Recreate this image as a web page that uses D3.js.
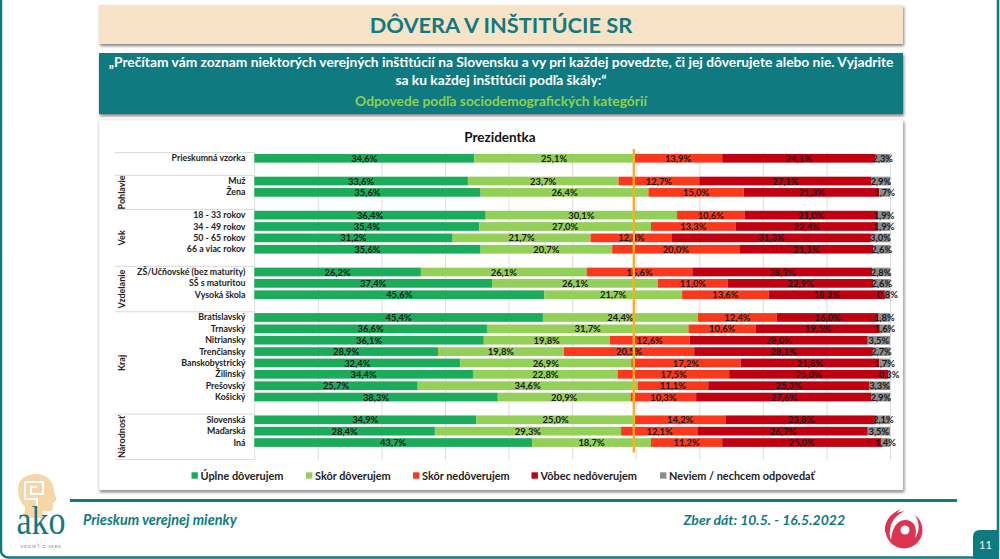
<!DOCTYPE html>
<html>
<head>
<meta charset="utf-8">
<script src="https://cdn.jsdelivr.net/npm/d3@7"></script>
<style>
html, body { margin: 0; padding: 0; background: #fff; }
svg { display: block; font-family: Lato, "Open Sans", sans-serif; }
</style>
</head>
<body>
<div id="chart"></div>
<script>
var groupNames = ["", "Pohlavie", "Vek", "Vzdelanie", "Kraj", "Národnosť"];
var groupSizes = [1, 2, 4, 3, 8, 3];
var categories = ["Prieskumná vzorka", "Muž", "Žena", "18 - 33 rokov", "34 - 49 rokov", "50 - 65 rokov", "66 a viac rokov",
	"ZŠ/Učňovské (bez maturity)", "SŠ s maturitou", "Vysoká škola", "Bratislavský", "Trnavský", "Nitriansky", "Trenčiansky",
	"Banskobystrický", "Žilinský", "Prešovský", "Košický", "Slovenská", "Maďarská", "Iná"];

var uplneDoverujem = [34.6, 33.6, 35.6, 36.4, 35.4, 31.2, 35.6, 26.2, 37.4, 45.6, 45.4, 36.6, 36.1, 28.9, 32.4, 34.4, 25.7, 38.3, 34.9, 28.4, 43.7];
var skorDoverujem = [25.1, 23.7, 26.4, 30.1, 27.0, 21.7, 20.7, 26.1, 26.1, 21.7, 24.4, 31.7, 19.8, 19.8, 26.9, 22.8, 34.6, 20.9, 25.0, 29.3, 18.7];
var skorNedoverujem = [13.9, 12.7, 15.0, 10.6, 13.3, 12.8, 20.0, 16.6, 11.0, 13.6, 12.4, 10.6, 12.6, 20.5, 17.2, 17.5, 11.1, 10.3, 14.2, 12.1, 11.2];
var vobecNedoverujem = [24.1, 27.1, 21.3, 21.0, 22.4, 31.3, 21.1, 28.3, 22.9, 18.3, 16.0, 19.5, 28.0, 28.1, 21.8, 25.0, 25.3, 27.6, 23.8, 26.7, 25.0];
var neviem = [2.3, 2.9, 1.7, 1.9, 1.9, 3.0, 2.6, 2.8, 2.6, 0.8, 1.8, 1.6, 3.5, 2.7, 1.7, 0.3, 3.3, 2.9, 2.1, 3.5, 1.4];

var seriesNames = ["Úplne dôverujem", "Skôr dôverujem", "Skôr nedôverujem", "Vôbec nedôverujem", "Neviem / nechcem odpovedať"];
var seriesValues = [uplneDoverujem, skorDoverujem, skorNedoverujem, vobecNedoverujem, neviem];
var seriesColors = ["#1aab5b", "#94cf58", "#fb371c", "#c00010", "#8c8c8c"];
var gridTicks = [0, 10, 20, 30, 40, 50, 60, 70, 80, 90, 100];

var teal = "#0f7a80";
var width = 1000, height = 559;

var svg = d3.select("#chart").append("svg")
	.attr("width", width)
	.attr("height", height);

// slide frame, open at the top
svg.append("rect")
	.attr("x", 1).attr("y", -20)
	.attr("width", 997).attr("height", 577.5)
	.attr("rx", 7)
	.attr("fill", "none")
	.attr("stroke", teal)
	.attr("stroke-width", 2.5);

// header boxes
var shadow = "drop-shadow(1px 2px 1.5px rgba(0,0,0,.5))";
svg.append("rect").attr("x", 99).attr("y", 5).attr("width", 804).attr("height", 39)
	.attr("fill", "#f9e3c6").style("filter", shadow);
svg.append("text").attr("x", 501).attr("y", 33).attr("text-anchor", "middle")
	.attr("font-size", 21.8).attr("font-weight", 700).attr("fill", teal)
	.text("DÔVERA V INŠTITÚCIE SR");

svg.append("rect").attr("x", 99).attr("y", 53).attr("width", 804).attr("height", 61)
	.attr("fill", teal).style("filter", shadow);
var headerLines = ["„Prečítam vám zoznam niektorých verejných inštitúcií na Slovensku a vy pri každej povedzte, či jej dôverujete alebo nie. Vyjadrite",
	"sa ku každej inštitúcii podľa škály:“"];
svg.selectAll(".headerLine").data(headerLines).enter().append("text")
	.attr("class", "headerLine")
	.attr("x", 501)
	.attr("y", function(d, i) { return 67 + i * 18; })
	.attr("text-anchor", "middle")
	.attr("font-size", 13.8)
	.attr("font-weight", 700)
	.attr("fill", "#fff")
	.text(function(d) { return d; });
svg.append("text").attr("x", 501).attr("y", 106).attr("text-anchor", "middle")
	.attr("font-size", 13.8).attr("font-weight", 700).attr("fill", "#8fd04f")
	.text("Odpovede podľa sociodemografických kategórií");

// chart panel
svg.append("rect").attr("x", 99).attr("y", 120).attr("width", 804).attr("height", 370)
	.attr("fill", "#fff").attr("stroke", "#e3e3e3").attr("stroke-width", 0.5).style("filter", shadow);
svg.append("text").attr("x", 500).attr("y", 142).attr("text-anchor", "middle")
	.attr("font-size", 13.5).attr("font-weight", 700).attr("fill", "#111")
	.text("Prezidentka");

// row slots: each group is followed by one empty row
var slots = [], groupFirst = [], offset = 0;
groupSizes.forEach(function(size, g) {
	groupFirst.push(categories[offset]);
	categories.slice(offset, offset + size).forEach(function(c) { slots.push(c); });
	slots.push("gap" + g);
	offset += size;
});

var x = d3.scaleLinear().domain([0, 100]).range([254.3, 890]);
var y = d3.scaleBand().domain(slots).range([152.6, 459.6]).paddingInner(0.235).paddingOuter(0.1175);
var step = y.step();
var rowTop = function(name) { return y(name) - step * y.paddingInner() / 2; };

// vertical grid
svg.append("g")
	.attr("transform", "translate(0,459.6)")
	.call(d3.axisBottom(x).tickValues(gridTicks).tickSize(-307).tickFormat(""))
	.call(function(g) {
		g.select(".domain").remove();
		g.selectAll("line").attr("stroke", "#dcdcdc");
	});

// multi level category axis
var groupLines = groupFirst.map(rowTop).concat([459.6]);
svg.selectAll(".groupLine").data(groupLines).enter().append("line")
	.attr("class", "groupLine")
	.attr("x1", 115).attr("x2", x(0))
	.attr("y1", function(d) { return d; }).attr("y2", function(d) { return d; })
	.attr("stroke", "#d9d9d9");

svg.selectAll(".groupLabel").data(groupNames).enter().append("text")
	.attr("class", "groupLabel")
	.attr("transform", function(d, i) {
		return "translate(125," + (groupLines[i] + groupLines[i + 1]) / 2 + ") rotate(-90)";
	})
	.attr("text-anchor", "middle")
	.attr("font-size", 9)
	.attr("font-weight", 700)
	.attr("fill", "#222")
	.text(function(d) { return d; });

svg.selectAll(".catLabel").data(categories).enter().append("text")
	.attr("class", "catLabel")
	.attr("x", 245.5)
	.attr("y", function(d) { return y(d) + y.bandwidth() / 2 + 3; })
	.attr("text-anchor", "end")
	.attr("font-size", 8.8)
	.attr("font-weight", 700)
	.attr("fill", "#222")
	.text(function(d) { return d; });

// stacked bars
var rows = categories.map(function(c, i) {
	var row = {category: c};
	seriesNames.forEach(function(s, k) { row[s] = seriesValues[k][i]; });
	return row;
});
var stacked = d3.stack().keys(seriesNames)(rows);
var sk = d3.formatLocale({decimal: ",", thousands: " ", grouping: [3], currency: ["", "€"]});
var percent = sk.format(".1f");

var layers = svg.selectAll(".layer").data(stacked).enter().append("g")
	.attr("class", "layer")
	.attr("fill", function(d, i) { return seriesColors[i]; });

layers.selectAll("rect").data(function(d) { return d; }).enter().append("rect")
	.attr("x", function(d) { return x(d[0]); })
	.attr("y", function(d) { return y(d.data.category); })
	.attr("width", function(d) { return x(d[1]) - x(d[0]); })
	.attr("height", y.bandwidth());

var labels = svg.selectAll(".labels").data(stacked).enter().append("g")
	.attr("class", "labels");

labels.selectAll("text").data(function(d) { return d; }).enter().append("text")
	.attr("x", function(d) { return x((d[0] + d[1]) / 2); })
	.attr("y", function(d) { return y(d.data.category) + y.bandwidth() / 2 + 3.6; })
	.attr("text-anchor", "middle")
	.attr("font-size", 9.4)
	.attr("font-weight", 700)
	.attr("fill", "#1a1a1a")
	.text(function(d) { return percent(d[1] - d[0]) + "%"; });

// reference line at the trust level of the whole sample
var refValue = uplneDoverujem[0] + skorDoverujem[0];
svg.append("line")
	.attr("x1", x(refValue)).attr("x2", x(refValue))
	.attr("y1", 149).attr("y2", 452.5)
	.attr("stroke", "#f4b02c")
	.attr("stroke-width", 2.4);

// legend
var legendX = [191.5, 306, 413, 531.5, 660];
var legend = svg.selectAll(".legendItem").data(seriesNames).enter().append("g")
	.attr("class", "legendItem")
	.attr("transform", function(d, i) { return "translate(" + legendX[i] + ",475.5)"; });
legend.append("rect")
	.attr("x", 0).attr("y", -3.2).attr("width", 6.4).attr("height", 6.4)
	.attr("fill", function(d, i) { return seriesColors[i]; });
legend.append("text")
	.attr("x", 9).attr("y", 4.2)
	.attr("font-size", 10.9)
	.attr("font-weight", 700)
	.attr("fill", "#222")
	.text(function(d) { return d; });

// footer
svg.append("line").attr("x1", 70).attr("x2", 957).attr("y1", 500.5).attr("y2", 500.5)
	.attr("stroke", teal).attr("stroke-width", 3);
svg.append("text").attr("x", 83).attr("y", 525)
	.attr("font-size", 14.4).attr("font-weight", 700).attr("font-style", "italic").attr("fill", teal)
	.text("Prieskum verejnej mienky");
svg.append("text").attr("x", 845).attr("y", 525).attr("text-anchor", "end")
	.attr("font-size", 14).attr("font-weight", 700).attr("font-style", "italic").attr("fill", teal)
	.text("Zber dát: 10.5. - 16.5.2022");

svg.append("path")
	.attr("d", "M973 559V537Q973 530 980 530H999V559Z")
	.attr("fill", teal);
svg.append("text").attr("x", 985.5).attr("y", 549).attr("text-anchor", "middle")
	.attr("font-size", 11).attr("fill", "#fff").text("11");

// ako logo
var logo = svg.append("g");
logo.append("path")
	.attr("d", "M18 489C18 478 28 473.5 37 474C48 474.5 54 483 54 491C54 495 57 498 56 500C55 502 53 502 53 504C53 508 53 511 49 511L43 511L43 518L24 518L25 507C20 502 18 496 18 489Z")
	.attr("fill", "#f5d6a6");
logo.append("path")
	.attr("d", "M37 518V499H25V482H43V494H31V487H37")
	.attr("fill", "none")
	.attr("stroke", "#fff")
	.attr("stroke-width", 2);
logo.append("text").attr("x", 41).attr("y", 533.5).attr("text-anchor", "middle")
	.attr("font-family", "Liberation Serif").attr("font-size", 41).attr("fill", teal)
	.attr("textLength", 49).attr("lengthAdjust", "spacingAndGlyphs")
	.text("ako");
logo.append("text").attr("x", 41).attr("y", 547.5).attr("text-anchor", "middle")
	.attr("font-size", 4.5).attr("letter-spacing", 0.7).attr("fill", "#6f8f90")
	.text("VEDIEŤ O SEBE");

// swirl logo
var swirl = svg.append("g").attr("fill", "#dc3350");
swirl.append("circle").attr("cx", 904).attr("cy", 530).attr("r", 18.5);
swirl.append("path").attr("fill", "#fff")
	.attr("d", "M891 540C887 528 892 515 908 510L914 514C919 520 921 530 915 538C918 528 914 520 905 520C896 520 892 530 891 540Z");
swirl.append("path")
	.attr("d", "M901 509C889 514 884 523 885 532L890 532C890 523 894 515 901 509Z");
swirl.append("circle").attr("cx", 905).attr("cy", 530).attr("r", 4.5).attr("fill", "#fff");
</script>
</body>
</html>
